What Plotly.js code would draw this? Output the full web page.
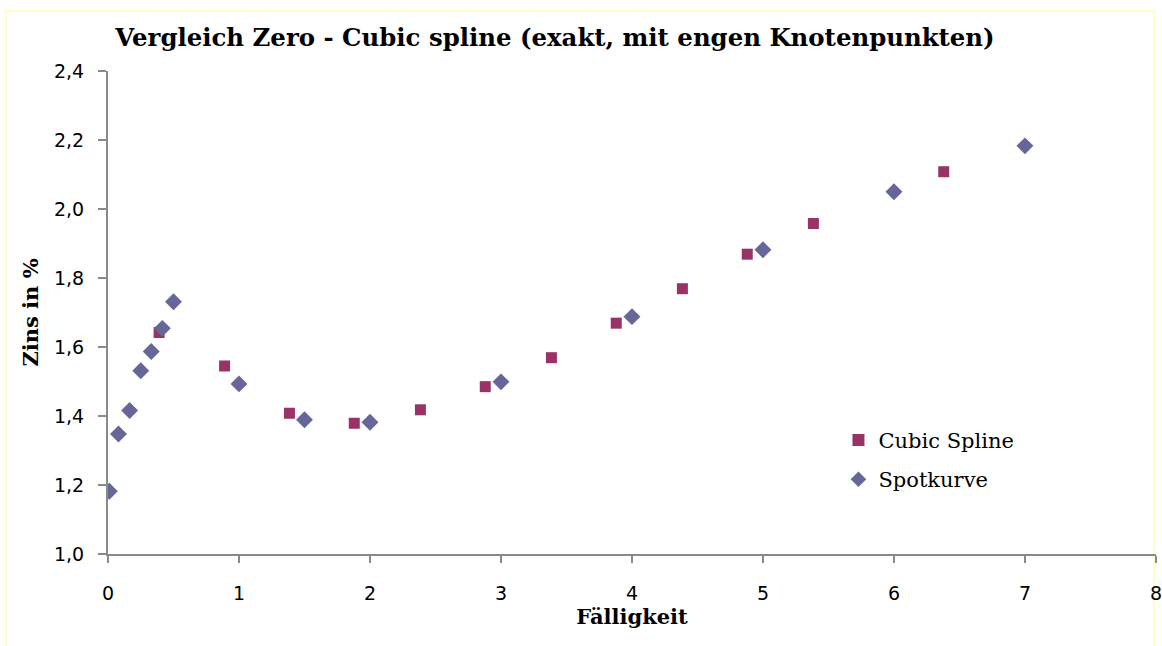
<!DOCTYPE html>
<html>
<head>
<meta charset="utf-8">
<script src="https://cdn.plot.ly/plotly-3.0.1.min.js"></script>
<style>
html,body{margin:0;padding:0;background:#fff;}
#chart{width:1162px;height:646px;}
</style>
</head>
<body>
<div id="chart"></div>
<script>
const splineX = [0.39, 0.89, 1.385, 1.88, 2.385, 2.88, 3.385, 3.88, 4.385, 4.88, 5.385, 6.38];
const splineY = [1.642, 1.545, 1.408, 1.379, 1.418, 1.485, 1.569, 1.669, 1.769, 1.869, 1.958, 2.108];
const spotX = [0.01, 0.08, 0.165, 0.25, 0.33, 0.415, 0.5, 1, 1.5, 2, 3, 4, 5, 6, 7];
const spotY = [1.182, 1.348, 1.416, 1.531, 1.587, 1.654, 1.731, 1.493, 1.389, 1.382, 1.499, 1.688, 1.882, 2.050, 2.183];
const yTicks = [1.0, 1.2, 1.4, 1.6, 1.8, 2.0, 2.2, 2.4];
const xTicks = [0, 1, 2, 3, 4, 5, 6, 7, 8];

const traces = [
  {x: splineX, y: splineY, type: 'scatter', mode: 'markers', name: 'Cubic Spline', legendgroup: 'a',
   marker: {symbol: 'square', size: 11, color: '#993366'}},
  {x: spotX, y: spotY, type: 'scatter', mode: 'markers', name: 'Spotkurve', legendgroup: 'b',
   marker: {symbol: 'diamond', size: 13, color: '#666699'}}
];

const axisCol = '#8a8a8a';
const layout = {
  width: 1162, height: 646,
  margin: {l: 108, r: 6, t: 71, b: 92},
  paper_bgcolor: '#ffffff', plot_bgcolor: '#ffffff',
  separators: ', ',
  showlegend: true,
  title: {text: '<b>Vergleich Zero - Cubic spline (exakt, mit engen Knotenpunkten)</b>',
          font: {family: 'DejaVu Serif', size: 24.4, color: '#000'},
          x: 0.4776, xanchor: 'center', y: 0.942, yanchor: 'middle'},
  xaxis: {range: [0, 8.0005], tickvals: xTicks, ticktext: xTicks.map(String),
          showgrid: false, zeroline: false, showline: true, linecolor: axisCol, linewidth: 2,
          ticks: 'outside', ticklen: 7, tickwidth: 2, tickcolor: axisCol,
          tickfont: {family: 'DejaVu Sans', size: 19, color: '#000'},
          ticklabelstandoff: 14, ticklabeloverflow: 'allow',
          title: {text: '<b>Fälligkeit</b>', font: {family: 'DejaVu Serif', size: 21, color: '#000'}, standoff: 6}},
  yaxis: {range: [1.0, 2.4], tickvals: yTicks, tickformat: '.1f',
          showgrid: false, zeroline: false, showline: true, linecolor: axisCol, linewidth: 2,
          ticks: 'outside', ticklen: 8, tickwidth: 2, tickcolor: axisCol,
          tickfont: {family: 'DejaVu Sans', size: 19, color: '#000'},
          ticklabelstandoff: 10,
          title: {text: '<b>Zins in %</b>', font: {family: 'DejaVu Serif', size: 21, color: '#000'}, standoff: 10}},
  legend: {x: 0.697, y: 0.195, xanchor: 'left', yanchor: 'middle', bgcolor: 'rgba(0,0,0,0)',
           traceorder: 'grouped', tracegroupgap: 9,
           font: {family: 'DejaVu Serif', size: 21, color: '#000'}, itemsizing: 'constant'},
  shapes: [{type: 'rect', xref: 'paper', yref: 'paper',
            x0: (6-108)/1048, x1: (1154-108)/1048, y0: (554-652)/483, y1: (554-11)/483,
            line: {color: '#ffffcc', width: 2}, fillcolor: 'rgba(0,0,0,0)', layer: 'below'}]
};

Plotly.newPlot('chart', traces, layout, {displayModeBar: false, staticPlot: true});
</script>
</body>
</html>
